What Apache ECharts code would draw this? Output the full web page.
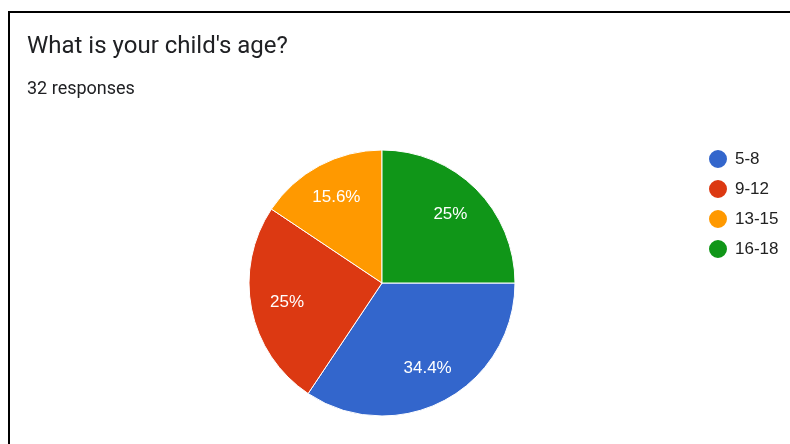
<!DOCTYPE html>
<html>
<head>
<meta charset="utf-8">
<script src="https://cdn.jsdelivr.net/npm/echarts@6/dist/echarts.min.js"></script>
<style>
  html, body { margin: 0; padding: 0; background: #fff; }
  #chart { width: 790px; height: 444px; }
</style>
</head>
<body>
<div id="chart"></div>
<script>
// Survey answers: age groups and number of responses
const categories = ['5-8', '9-12', '13-15', '16-18'];
const counts = [11, 8, 5, 8];
const colors = ['#3366CC', '#DC3912', '#FF9900', '#109618'];
const titleText = "What is your child's age?";
const subtitleText = '32 responses';

const pieData = categories.map((name, i) => ({ name, value: counts[i] }));
const total = counts.reduce((a, b) => a + b, 0);

const CX = 382, CY = 283, R = 133;

const chart = echarts.init(document.getElementById('chart'), null, { renderer: 'canvas' });

chart.setOption({
  animation: false,
  color: colors,
  title: {
    text: titleText,
    subtext: subtitleText,
    left: 22,
    top: 30,
    itemGap: 21,
    textStyle: { fontFamily: 'Roboto', fontSize: 24, fontWeight: 'normal', color: '#202124' },
    subtextStyle: { fontFamily: 'Roboto', fontSize: 18, color: '#202124' }
  },
  legend: {
    orient: 'vertical',
    left: 702,
    top: 143,
    icon: 'circle',
    itemWidth: 20,
    itemHeight: 20,
    itemGap: 8,
    data: categories,
    textStyle: {
      fontFamily: 'Liberation Sans, Arial',
      fontSize: 17,
      lineHeight: 17,
      color: '#222222',
      padding: [0, 0, 0, 2]
    }
  },
  graphic: [{
    type: 'rect',
    silent: true,
    shape: { x: 9, y: 12, width: 1000, height: 1000 },
    style: { fill: 'none', stroke: '#000', lineWidth: 2 }
  }],
  series: [
    {
      type: 'pie',
      center: [CX, CY],
      radius: [0, R],
      startAngle: 0,
      clockwise: true,
      data: pieData,
      label: { show: false },
      labelLine: { show: false },
      itemStyle: { borderColor: '#fff', borderWidth: 1 },
      emphasis: { disabled: true }
    },
    {
      // transparent ring used only to place the percentage labels
      type: 'pie',
      center: [CX, CY],
      radius: [R * 0.41, R],
      startAngle: 0,
      clockwise: true,
      silent: true,
      data: pieData,
      itemStyle: { color: 'transparent', borderWidth: 0 },
      labelLine: { show: false },
      label: {
        show: true,
        position: 'inside',
        color: '#fff',
        fontFamily: 'Liberation Sans, Arial',
        fontSize: 17,
        formatter: p => {
          const pct = Math.round(p.value / total * 1000) / 10;
          return pct + '%';
        }
      },
      emphasis: { disabled: true }
    }
  ]
});
</script>
</body>
</html>
